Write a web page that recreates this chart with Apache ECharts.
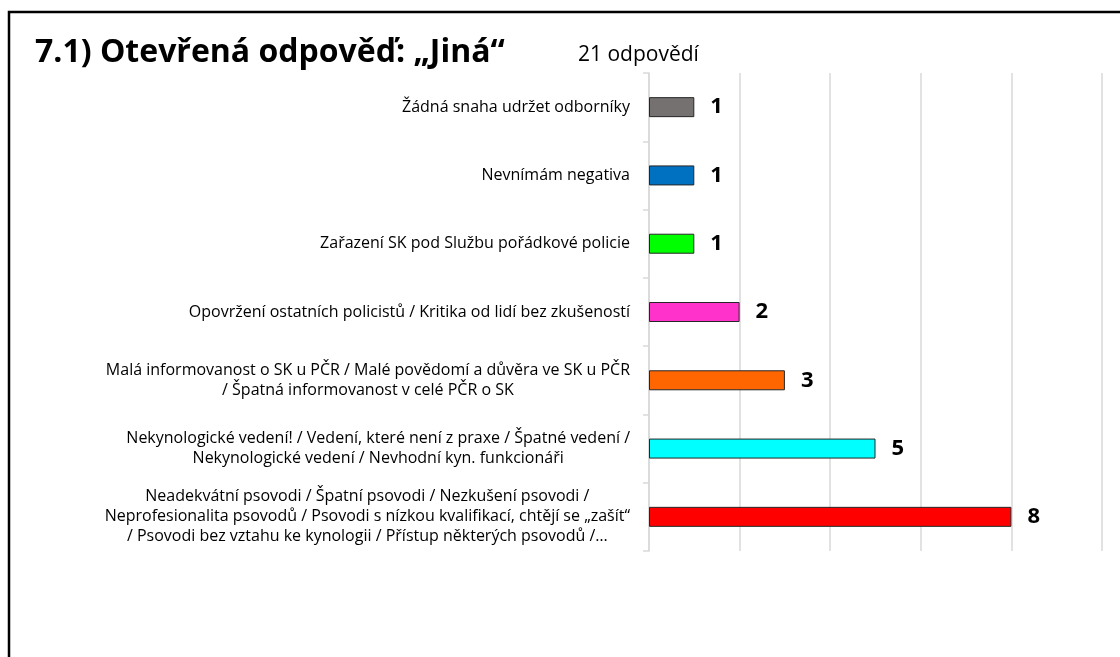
<!DOCTYPE html>
<html><head><meta charset="utf-8">
<script src="https://cdn.jsdelivr.net/npm/echarts@6/dist/echarts.min.js"></script>
<style>html,body{margin:0;padding:0;background:#fff}#c{width:1120px;height:657px}</style>
</head><body><div id="c"></div>
<script>
const categories = [
  "Žádná snaha udržet odborníky",
  "Nevnímám negativa",
  "Zařazení SK pod Službu pořádkové policie",
  "Opovržení ostatních policistů / Kritika od lidí bez zkušeností",
  "Malá informovanost o SK u PČR / Malé povědomí a důvěra ve SK u PČR\n/ Špatná informovanost v celé PČR o SK",
  "Nekynologické vedení! / Vedení, které není z praxe / Špatné vedení /\nNekynologické vedení / Nevhodní kyn. funkcionáři",
  "Neadekvátní psovodi / Špatní psovodi / Nezkušení psovodi /\nNeprofesionalita psovodů / Psovodi s nízkou kvalifikací, chtějí se „zašít“\n/ Psovodi bez vztahu ke kynologii / Přístup některých psovodů /…"
];
const values = [1, 1, 1, 2, 3, 5, 8];
const barColors = ["#767171", "#0070C0", "#00FF00", "#FF33CC", "#FF6600", "#00FFFF", "#FF0000"];
const titleText = "7.1) Otevřená odpověď: „Jiná“";
const subtitleText = "21 odpovědí";

const FONT = "Open Sans";
const chart = echarts.init(document.getElementById('c'), null, {renderer: 'canvas'});
chart.setOption({
  animation: false,
  backgroundColor: '#fff',
  graphic: [
    {type: 'rect', shape: {x: 9, y: 12, width: 1130, height: 670}, style: {fill: 'none', stroke: '#000', lineWidth: 2.5}, silent: true},
    {type: 'text', left: 35, top: 37, style: {text: titleText, font: 'bold 32px "' + FONT + '"', fill: '#000'}},
    {type: 'text', left: 578, top: 45, style: {text: subtitleText, font: '21px "' + FONT + '"', fill: '#000'}}
  ],
  grid: {left: 649, right: 18, top: 73, bottom: 106, containLabel: false},
  xAxis: {
    type: 'value', min: 0, max: 10, interval: 2,
    axisLabel: {show: false}, axisTick: {show: false}, axisLine: {show: false},
    splitLine: {show: true, lineStyle: {color: '#d9d9d9', width: 1.5}}
  },
  yAxis: {
    type: 'category', data: categories, inverse: true,
    axisLine: {show: true, lineStyle: {color: '#d9d9d9', width: 1.5}},
    axisTick: {show: true, length: 6, lineStyle: {color: '#d9d9d9', width: 1.5}},
    axisLabel: {
      margin: 19, fontFamily: FONT, fontSize: 16, color: '#000', lineHeight: 20,
      formatter: function (v) { return v.split('\n').map(l => '{c|' + l + '}').join('\n'); },
      rich: {c: {align: 'center', fontFamily: FONT, fontSize: 16, color: '#000', lineHeight: 20}}
    }
  },
  series: [{
    type: 'bar', data: values.map((v, i) => ({value: v, itemStyle: {color: barColors[i]}})),
    barWidth: 20,
    itemStyle: {borderColor: '#262626', borderWidth: 1},
    label: {show: true, position: 'right', distance: 16, fontFamily: FONT, fontWeight: 'bold', fontSize: 22, color: '#000'}
  }]
});
</script></body></html>
